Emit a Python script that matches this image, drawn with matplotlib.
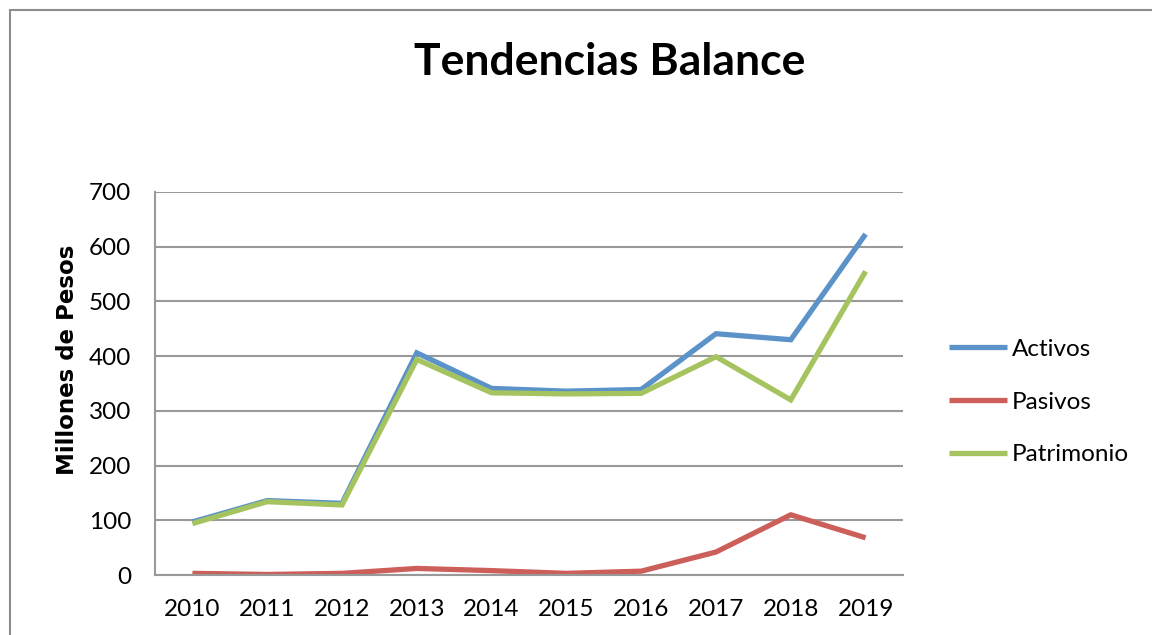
import matplotlib
matplotlib.use("Agg")
import matplotlib.pyplot as plt
from matplotlib.patches import Rectangle

# --- datos (millones de pesos) ---
anios = ["2010", "2011", "2012", "2013", "2014", "2015", "2016", "2017", "2018", "2019"]
activos = [97, 136, 131, 406, 341, 336, 339, 441, 430, 623]
pasivos = [3, 1, 3, 12, 8, 3, 7, 42, 110, 68]
patrimonio = [94, 134, 128, 394, 333, 331, 332, 399, 320, 555]

series = [("Activos", activos, "#5b93c9"),
          ("Pasivos", pasivos, "#cc5f5a"),
          ("Patrimonio", patrimonio, "#a5c35f")]

plt.rcParams["font.family"] = ["Lato", "DejaVu Sans"]

W, H = 1152, 635
fig = plt.figure(figsize=(W / 100, H / 100), dpi=100)

# marco gris del gráfico (estilo Excel)
fig.patches.append(Rectangle((10 / W, -0.1), 1.2, (H - 10) / H + 0.1,
                             transform=fig.transFigure, fill=False,
                             ec="#8c8c8c", lw=1.5))

ax = fig.add_axes([155 / W, 1 - 575 / H, (903 - 155) / W, (575 - 192) / H])
x = list(range(len(anios)))
for nombre, vals, color in series:
    ax.plot(x, vals, color=color, lw=3.8, label=nombre,
            solid_joinstyle="miter", solid_capstyle="butt")

ax.set_xlim(-0.5, len(anios) - 0.5)
ax.set_ylim(0, 700)
ax.set_yticks(range(0, 701, 100))
ax.set_xticks(x)
ax.set_xticklabels(anios)
ax.yaxis.grid(True, color="#999999", lw=1.5)
ax.set_axisbelow(True)
for lado in ["top", "right"]:
    ax.spines[lado].set_visible(False)
for lado in ["left", "bottom"]:
    ax.spines[lado].set_color("#999999")
    ax.spines[lado].set_linewidth(1.5)
ax.tick_params(axis="both", length=0, labelsize=17.5, colors="black")
ax.tick_params(axis="y", pad=17)
ax.tick_params(axis="x", pad=17)

fig.text(68 / W, 1 - 360 / H, "Millones de Pesos", rotation=90,
         ha="center", va="center", fontsize=16.5, fontweight="bold",
         family=["DejaVu Sans"])
fig.text(610 / W, 1 - 62 / H, "Tendencias Balance", ha="center",
         va="center", fontsize=32, fontweight="bold")

ax.legend(loc="center left", bbox_to_anchor=(927 / W, 1 - 402 / H),
          bbox_transform=fig.transFigure, frameon=False, fontsize=17.5,
          handlelength=2.4, handletextpad=0.2, labelspacing=1.3)

fig.savefig("out.png", dpi=100)
